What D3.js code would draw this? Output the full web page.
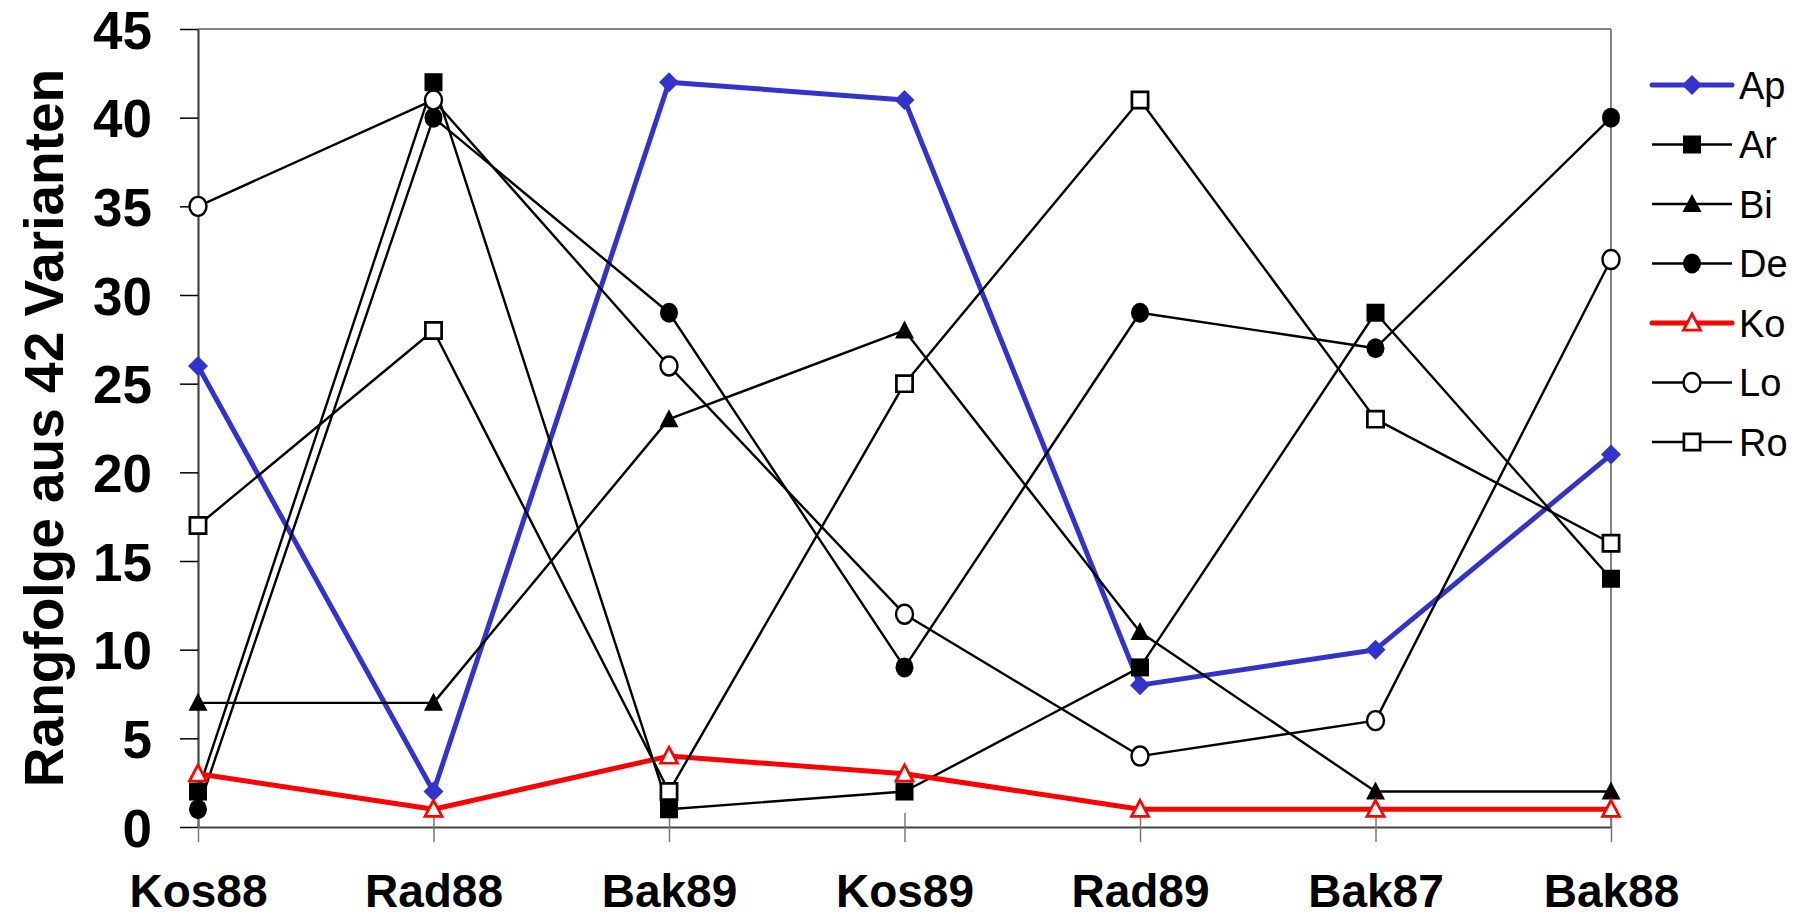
<!DOCTYPE html>
<html>
<head>
<meta charset="utf-8">
<script src="https://cdn.jsdelivr.net/npm/d3@7"></script>
<style>
  html, body { margin: 0; padding: 0; background: #fff; }
  svg { display: block; }
  text { font-family: "Liberation Sans", Arial, sans-serif; }
</style>
</head>
<body>
<svg id="chart" width="1802" height="918"></svg>
<script>
// Sites / years on the x axis
const categories = ["Kos88", "Rad88", "Bak89", "Kos89", "Rad89", "Bak87", "Bak88"];

// Rank (out of 42 variants) per variety
const ap = [26, 2, 42, 41, 8, 10, 21];
const ar = [2, 42, 1, 2, 9, 29, 14];
const bi = [7, 7, 23, 28, 11, 2, 2];
const de = [1, 40, 29, 9, 29, 27, 40];
const ko = [3, 1, 4, 3, 1, 1, 1];
const lo = [35, 41, 26, 12, 4, 6, 32];
const ro = [17, 28, 2, 25, 41, 23, 16];

const seriesNames = ["Ap", "Ar", "Bi", "De", "Ko", "Lo", "Ro"];
const yTicks = [0, 5, 10, 15, 20, 25, 30, 35, 40, 45];

const styles = {
  Ap: { color: "#3333CC", width: 5, marker: "diamond", fill: "#3333CC", stroke: "none" },
  Ar: { color: "#000", width: 2.4, marker: "square", fill: "#000", stroke: "none" },
  Bi: { color: "#000", width: 2.4, marker: "triangle", fill: "#000", stroke: "none" },
  De: { color: "#000", width: 2.4, marker: "circle", fill: "#000", stroke: "none" },
  Ko: { color: "#FF0000", width: 5, marker: "triangle", fill: "#fff", stroke: "#FF0000" },
  Lo: { color: "#000", width: 2.4, marker: "circle", fill: "#fff", stroke: "#000" },
  Ro: { color: "#000", width: 2.4, marker: "square", fill: "#fff", stroke: "#000" }
};
const seriesValues = [ap, ar, bi, de, ko, lo, ro];
const series = seriesNames.map((n, i) => ({ name: n, values: seriesValues[i] }));

const svg = d3.select("#chart");
const plotLeft = 198, plotRight = 1611, plotTop = 29, plotBottom = 827;

const x = d3.scalePoint().domain(categories).range([plotLeft, plotRight]).padding(0);
const y = d3.scaleLinear().domain([0, 45]).range([plotBottom, plotTop]);

// Marker path generator
function markerPath(type) {
  switch (type) {
    case "diamond": return "M0,-10L10,0L0,10L-10,0Z";
    case "square": return "M-9,-9H9V9H-9Z";
    case "triangle": return "M0,-10L9.5,8H-9.5Z";
    default: return null;
  }
}
function drawMarker(g, type, cx, cy, st) {
  const open = st.fill === "#fff";
  if (type === "circle") {
    g.append("ellipse").attr("cx", cx).attr("cy", cy)
      .attr("rx", open ? 8.5 : 9).attr("ry", open ? 9.5 : 10)
      .attr("fill", st.fill).attr("stroke", st.stroke)
      .attr("stroke-width", 2.4);
  } else {
    g.append("path").attr("d", markerPath(type))
      .attr("transform", `translate(${cx},${cy})` + (open ? " scale(0.9)" : ""))
      .attr("fill", st.fill).attr("stroke", st.stroke)
      .attr("stroke-width", open ? 3 : 0);
  }
}

// Plot frame: top and right borders
svg.append("line").attr("x1", plotLeft).attr("x2", plotRight).attr("y1", plotTop).attr("y2", plotTop)
  .attr("stroke", "#858585").attr("stroke-width", 2);
svg.append("line").attr("x1", plotRight).attr("x2", plotRight).attr("y1", plotTop).attr("y2", plotBottom)
  .attr("stroke", "#858585").attr("stroke-width", 2);

// Y axis
const yAxis = svg.append("g").attr("transform", `translate(${plotLeft},0)`)
  .call(d3.axisLeft(y).tickValues(yTicks).tickSize(18).tickSizeOuter(0).tickPadding(28));
yAxis.select(".domain").attr("stroke", "#444").attr("stroke-width", 2.2);
yAxis.selectAll(".tick line").attr("stroke", "#000").attr("stroke-width", 1.5);
yAxis.selectAll(".tick text").attr("font-size", 53).attr("font-weight", "bold")
  .attr("fill", "#000").attr("dy", "0.36em");

// X axis
const xAxis = svg.append("g").attr("transform", `translate(0,${plotBottom})`)
  .call(d3.axisBottom(x).tickSize(15).tickSizeOuter(0));
xAxis.select(".domain").attr("stroke", "#444").attr("stroke-width", 2.2);
xAxis.selectAll(".tick line").attr("stroke", "#777").attr("stroke-width", 1.5).attr("y1", -14);
xAxis.selectAll(".tick text").attr("font-size", 46).attr("font-weight", "bold").attr("fill", "#000")
  .attr("y", 80).attr("dy", null);

// Y axis title
svg.append("text")
  .attr("transform", `translate(63,428) rotate(-90)`)
  .attr("text-anchor", "middle")
  .attr("font-size", 55).attr("font-weight", "bold").attr("fill", "#000")
  .text("Rangfolge aus 42 Varianten");

// Series
const line = d3.line().x((d, i) => x(categories[i])).y(d => y(d));
series.forEach(s => {
  const st = styles[s.name];
  const g = svg.append("g");
  g.append("path").datum(s.values).attr("d", line)
    .attr("fill", "none").attr("stroke", st.color).attr("stroke-width", st.width)
    .attr("stroke-linejoin", "round");
  s.values.forEach((v, i) => drawMarker(g, st.marker, x(categories[i]), y(v), st));
});

// Legend
const legend = svg.append("g");
const legendY0 = 85, legendStep = 59.5;
seriesNames.forEach((n, i) => {
  const st = styles[n];
  const ly = legendY0 + i * legendStep;
  legend.append("line").attr("x1", 1652).attr("x2", 1732).attr("y1", ly).attr("y2", ly)
    .attr("stroke", st.color).attr("stroke-width", st.width).attr("stroke-linecap", st.width > 3 ? "round" : "butt");
  drawMarker(legend, st.marker, 1692, ly, st);
  legend.append("text").attr("x", 1739).attr("y", ly).attr("dy", "0.36em")
    .attr("font-size", 38).attr("fill", "#000").text(n);
});
</script>
</body>
</html>
